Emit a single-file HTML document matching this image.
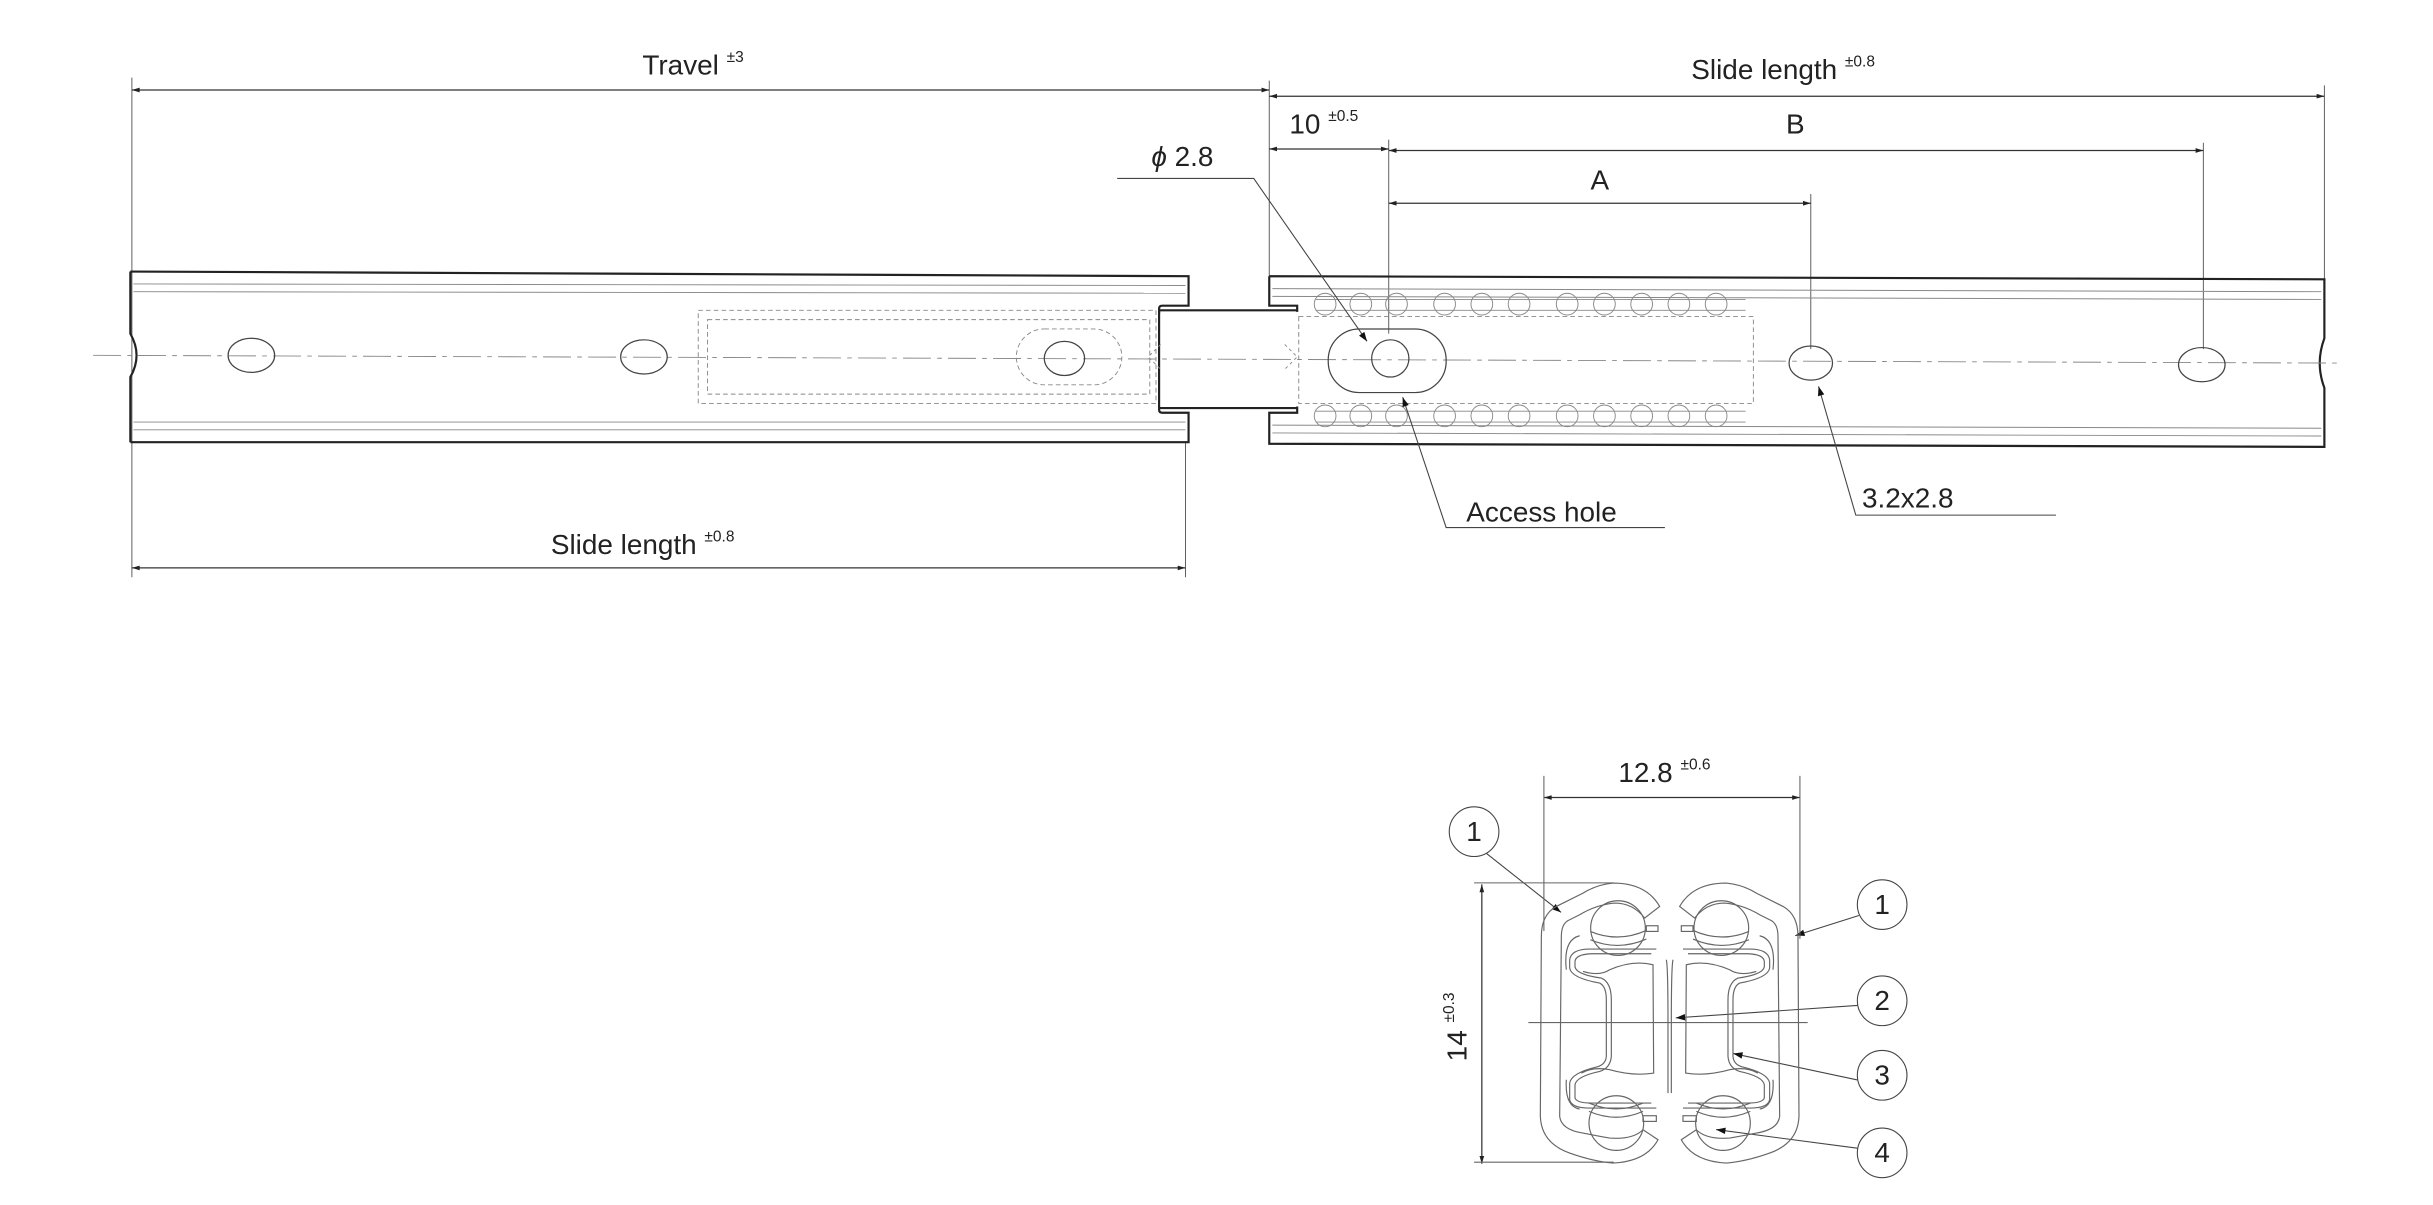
<!DOCTYPE html>
<html><head><meta charset="utf-8"><style>
html,body{margin:0;padding:0;background:#fff;}
svg{display:block;}
text{font-family:"Liberation Sans",sans-serif;fill:#222;}
</style></head><body>
<svg width="2433" height="1205" viewBox="0 0 1568 776.6" preserveAspectRatio="none" xmlns="http://www.w3.org/2000/svg">
<defs>
<marker id="a" viewBox="0 0 10 10" refX="10" refY="5" markerWidth="9" markerHeight="5" orient="auto-start-reverse" markerUnits="userSpaceOnUse"><path d="M0,2 L10,5 L0,8z" fill="#222"/></marker>
<marker id="b" viewBox="0 0 10 10" refX="10" refY="5" markerWidth="12" markerHeight="6" orient="auto" markerUnits="userSpaceOnUse"><path d="M0,1.5 L10,5 L0,8.5z" fill="#111"/></marker>
</defs>
<g stroke="#555" stroke-width="0.6" fill="none">
<line x1="85" y1="50" x2="85" y2="372"/>
<line x1="818" y1="52" x2="818" y2="178"/>
<line x1="1498" y1="55" x2="1498" y2="180"/>
<line x1="895" y1="90" x2="895" y2="215"/>
<line x1="1167" y1="125" x2="1167" y2="225"/>
<line x1="1420" y1="92" x2="1420" y2="225"/>
<line x1="764" y1="285" x2="764" y2="372"/>
</g>
<g stroke="#333" stroke-width="0.8" fill="none" marker-start="url(#a)" marker-end="url(#a)">
<line x1="85" y1="58" x2="818" y2="58"/>
<line x1="818" y1="62" x2="1498" y2="62"/>
<line x1="818" y1="96" x2="895" y2="96"/>
<line x1="895" y1="97" x2="1420" y2="97"/>
<line x1="895" y1="131" x2="1167" y2="131"/>
<line x1="85" y1="366" x2="764" y2="366"/>
<line x1="995" y1="514" x2="1160" y2="514"/>
<line x1="955" y1="570" x2="955" y2="750"/>
</g>
<g font-size="18">
<text x="414" y="48">Travel <tspan font-size="10" dy="-8">±3</tspan></text>
<text x="1090" y="51">Slide length <tspan font-size="10" dy="-8">±0.8</tspan></text>
<text x="831" y="86">10 <tspan font-size="10" dy="-8">±0.5</tspan></text>
<text x="1151" y="86">B</text>
<text x="1025" y="122">A</text>
<text x="742" y="107"><tspan font-style="italic">ϕ</tspan> 2.8</text>
<text x="945" y="336">Access hole</text>
<text x="1200" y="327">3.2x2.8</text>
<text x="355" y="357">Slide length <tspan font-size="10" dy="-8">±0.8</tspan></text>
<text x="1043" y="504">12.8 <tspan font-size="10" dy="-8">±0.6</tspan></text>
<text transform="translate(945,684) rotate(-90)">14 <tspan font-size="10" dy="-8">±0.3</tspan></text>
</g>
<!-- rails -->
<g stroke="#222" stroke-width="1.4" fill="none">
<path d="M84,175 L766,178 L766,197 L749,197 Q747,197 747,199 L747,202 M84,285 L766,285 L766,266 L749,266 Q747,266 747,264 L747,262"/>
<path d="M84,175 L84,215 Q92,229 84,243 L84,285"/>
<path d="M818,178 L1498,180 L1498,218 Q1492,234 1498,250 L1498,288 L818,286 L818,266 L836,266 L836,262 M818,178 L818,197 L836,197 L836,201"/>
<path d="M747,200 L836,200 M747,263 L836,263 M747,200 L747,263"/>
</g>
<g stroke="#888" stroke-width="0.6" fill="none">
<line x1="86" y1="183" x2="764" y2="184"/>
<line x1="86" y1="188" x2="764" y2="189"/>
<line x1="86" y1="272" x2="764" y2="272"/>
<line x1="86" y1="277" x2="764" y2="277"/>
<line x1="820" y1="186" x2="1496" y2="188"/>
<line x1="820" y1="191" x2="1496" y2="193"/>
<line x1="820" y1="274" x2="1496" y2="276"/>
<line x1="820" y1="279" x2="1496" y2="281"/>
<line x1="60" y1="229" x2="1510" y2="234" stroke-dasharray="18,4,3,4"/>
<rect x="450" y="200" width="295" height="60" stroke-dasharray="3,2"/>
<rect x="456" y="206" width="285" height="48" stroke-dasharray="3,2"/>
<rect x="837" y="204" width="293" height="56" stroke-dasharray="3,2"/>
<rect x="655" y="212" width="68" height="36" rx="18" stroke-dasharray="3,2"/>
<path d="M748,222 L740,230 L748,238 M828,222 L836,230 L828,238" stroke-dasharray="2,2"/>
</g>
<g stroke="#888" stroke-width="0.6" fill="none">
<g id="balls">
<circle cx="854" cy="196" r="7"/><circle cx="877" cy="196" r="7"/><circle cx="900" cy="196" r="7"/><circle cx="931" cy="196" r="7"/><circle cx="955" cy="196" r="7"/><circle cx="979" cy="196" r="7"/><circle cx="1010" cy="196" r="7"/><circle cx="1034" cy="196" r="7"/><circle cx="1058" cy="196" r="7"/><circle cx="1082" cy="196" r="7"/><circle cx="1106" cy="196" r="7"/>
<line x1="848" y1="193" x2="1125" y2="193"/><line x1="848" y1="200" x2="1125" y2="200"/>
</g>
<use href="#balls" transform="translate(0,72)"/>
</g>
<g stroke="#444" stroke-width="0.8" fill="none">
<ellipse cx="162" cy="229" rx="15" ry="11"/>
<ellipse cx="415" cy="230" rx="15" ry="11"/>
<ellipse cx="686" cy="231" rx="13" ry="11"/>
<rect x="856" y="212" width="76" height="41" rx="20"/>
<ellipse cx="896" cy="231" rx="12" ry="12"/>
<ellipse cx="1167" cy="234" rx="14" ry="11"/>
<ellipse cx="1419" cy="235" rx="15" ry="11"/>
</g>
<!-- leaders -->
<g stroke="#444" stroke-width="0.7" fill="none">
<path d="M720,115 L808,115 L881,220" marker-end="url(#b)"/>
<path d="M1073,340 L932,340 L904,256" marker-end="url(#b)"/>
<path d="M1325,332 L1196,332 L1172,249" marker-end="url(#b)"/>
<line x1="958" y1="550" x2="1006" y2="588" marker-end="url(#b)"/>
<line x1="1198" y1="590" x2="1157" y2="603" marker-end="url(#b)"/>
<line x1="1197" y1="648" x2="1080" y2="656" marker-end="url(#b)"/>
<line x1="1197" y1="696" x2="1117" y2="679" marker-end="url(#b)"/>
<line x1="1197" y1="740" x2="1106" y2="728" marker-end="url(#b)"/>
</g>
<!-- cross-section -->
<g stroke="#666" stroke-width="0.7" fill="none">
<path d="M995,500 L995,600 M1160,500 L1160,605"/>
<path d="M950,569 L1040,569 M950,749 L1040,749"/>
<line x1="985" y1="659" x2="1165" y2="659"/>
</g>
<g transform="translate(966.5,554.1) scale(0.2148)" stroke="#666" stroke-width="3.5" fill="none">
<g id="half">
<path d="M480,140 Q440,70 340,70 Q290,75 250,100 Q210,120 170,140 Q125,165 125,230 L122,770 Q125,850 210,880 Q280,905 340,910 Q440,905 475,840 L430,810 Q400,840 330,835 Q300,830 250,820 Q185,810 180,770 L185,230 Q185,190 210,180 L240,165 Q290,135 345,130 Q400,130 435,175 Z"/>
<circle cx="355" cy="205" r="82"/>
<circle cx="350" cy="790" r="82"/>
<path d="M272,215 Q355,250 440,212 M272,240 Q355,275 440,238"/>
<path d="M268,755 Q350,790 430,755 M268,730 Q350,765 430,730"/>
<rect x="440" y="198" width="35" height="17"/>
<rect x="430" y="768" width="40" height="17"/>
<path d="M470,268 L270,268 Q215,268 210,300 L210,325 Q215,355 300,370 Q320,380 320,420 L320,590 Q318,615 290,622 Q215,640 210,670 L210,720 Q215,745 270,745 L470,745"/>
<path d="M455,282 L275,282 Q228,284 226,305 L226,322 Q232,345 305,355 Q335,368 335,420 L335,590 Q332,625 300,635 Q230,650 226,675 L226,715 Q232,730 275,730 L455,730"/>
<path d="M250,335 Q300,350 330,330 Q400,300 460,315 L462,640 Q400,650 330,630 Q280,620 245,640"/>
<path d="M200,330 Q190,240 240,228 M200,660 Q195,740 240,748"/>
<path d="M500,300 Q505,320 505,490 L505,700"/>
</g>
<use href="#half" transform="translate(1020,0) scale(-1,1)"/>
</g>
<g stroke="#444" stroke-width="0.7" fill="#fff">
<circle cx="950" cy="536" r="16"/>
<circle cx="1213" cy="583" r="16"/>
<circle cx="1213" cy="645" r="16"/>
<circle cx="1213" cy="693" r="16"/>
<circle cx="1213" cy="743" r="16"/>
</g>
<g font-size="18" text-anchor="middle">
<text x="950" y="542">1</text><text x="1213" y="589">1</text><text x="1213" y="651">2</text><text x="1213" y="699">3</text><text x="1213" y="749">4</text>
</g>
</svg>
</body></html>
